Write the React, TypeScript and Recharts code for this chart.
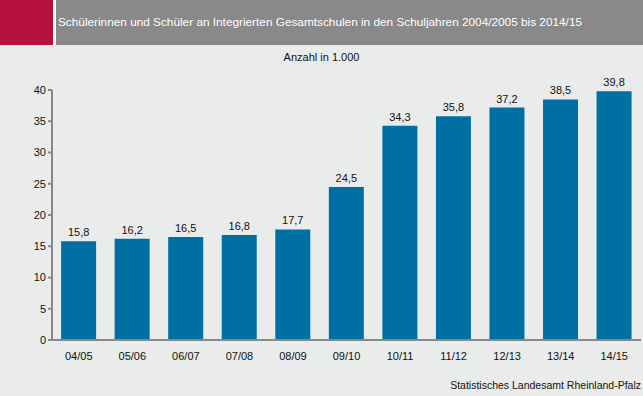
import { BarChart, Bar, XAxis, YAxis, LabelList } from 'recharts'

const years = ['04/05', '05/06', '06/07', '07/08', '08/09', '09/10', '10/11', '11/12', '12/13', '13/14', '14/15']
const students = [15.8, 16.2, 16.5, 16.8, 17.7, 24.5, 34.3, 35.8, 37.2, 38.5, 39.8]
const yTicks = [0, 5, 10, 15, 20, 25, 30, 35, 40]

const data = years.map((year, i) => ({ year, value: students[i] }))
const bandEdges = years.map((_, i) => i).concat(years.length)

const font = '"Liberation Sans", Arial, sans-serif'

export default function App() {
  return (
    <div
      style={{
        position: 'absolute',
        left: 0,
        top: 0,
        width: 643,
        height: 396,
        background: '#eaeceb',
        fontFamily: font,
        overflow: 'hidden',
      }}
    >
      <div style={{ position: 'absolute', left: 0, top: 0, width: 53, height: 45, background: '#b5123f' }} />
      <div style={{ position: 'absolute', left: 53, top: 0, width: 3, height: 45, background: '#ffffff' }} />
      <div
        style={{
          position: 'absolute',
          left: 56,
          top: 0,
          width: 587,
          height: 45,
          background: '#898989',
          color: '#ffffff',
          fontSize: 11.8,
          lineHeight: '44px',
          paddingLeft: 2,
          boxSizing: 'border-box',
          whiteSpace: 'nowrap',
        }}
      >
        Schülerinnen und Schüler an Integrierten Gesamtschulen in den Schuljahren 2004/2005 bis 2014/15
      </div>
      <div
        style={{
          position: 'absolute',
          left: 0,
          top: 51,
          width: 643,
          textAlign: 'center',
          fontSize: 11,
          color: '#111',
        }}
      >
        Anzahl in 1.000
      </div>
      <div
        style={{
          position: 'absolute',
          right: 2,
          top: 379,
          fontSize: 10.5,
          color: '#111',
          whiteSpace: 'nowrap',
        }}
      >
        Statistisches Landesamt Rheinland-Pfalz
      </div>
      <div style={{ position: 'absolute', left: 0, top: 0 }}>
        <BarChart
          width={643}
          height={396}
          data={data}
          margin={{ top: 90, right: 2, left: 0, bottom: 36 }}
          barCategoryGap="17%"
        >
          <XAxis
            xAxisId="edges"
            type="number"
            domain={[0, years.length]}
            ticks={bandEdges}
            tickFormatter={() => ''}
            axisLine={false}
            tickLine={{ stroke: '#888888', strokeWidth: 2 }}
            tickSize={4}
            height={0}
          />
          <XAxis
            dataKey="year"
            height={20}
            axisLine={{ stroke: '#888888', strokeWidth: 2 }}
            tickLine={false}
            tick={{ fontSize: 11, fill: '#111', fontFamily: font }}
            tickMargin={6}
          />
          <YAxis
            width={52}
            domain={[0, 40]}
            ticks={yTicks}
            interval={0}
            axisLine={{ stroke: '#888888', strokeWidth: 2 }}
            tickLine={{ stroke: '#888888', strokeWidth: 2 }}
            tickSize={4}
            tick={{ fontSize: 11, fill: '#111', fontFamily: font }}
          />
          <Bar dataKey="value" fill="#0070a3" isAnimationActive={false}>
            <LabelList
              dataKey="value"
              position="top"
              offset={5}
              formatter={(v: number) => v.toFixed(1).replace('.', ',')}
              style={{ fontSize: 11, fill: '#111', fontFamily: font }}
            />
          </Bar>
        </BarChart>
      </div>
    </div>
  )
}
